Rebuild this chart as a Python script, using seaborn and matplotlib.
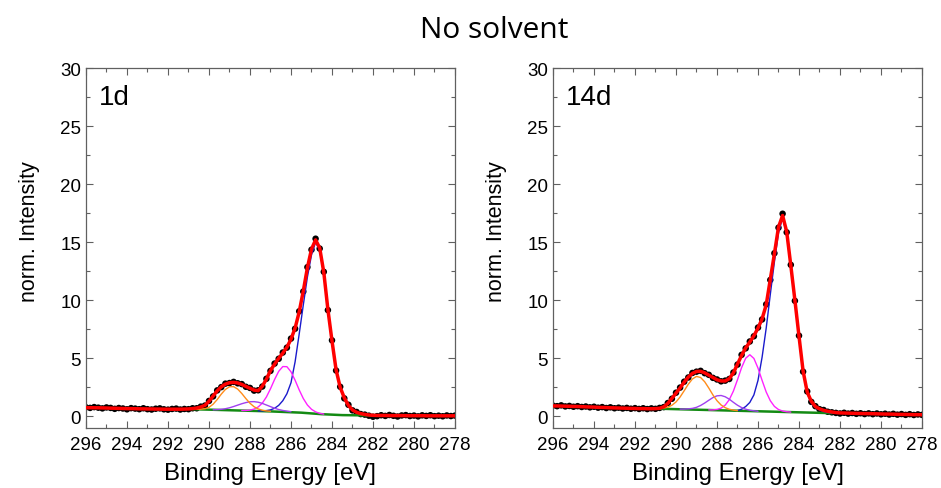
import numpy as np
import matplotlib
matplotlib.use("Agg")
import matplotlib.pyplot as plt
from matplotlib.ticker import MultipleLocator
import seaborn as sns

# ---------------- data ----------------
E_START, E_STEP = 296.0, 0.2          # measurement grid 296 -> 278 eV

panel_labels = ["1d", "14d"]
xticks = [296, 294, 292, 290, 288, 286, 284, 282, 280, 278]
yticks = [0, 5, 10, 15, 20, 25, 30]

data_1d = [0.78, 0.73, 0.80, 0.75, 0.69, 0.77, 0.73, 0.65, 0.72, 0.68,
           0.61, 0.71, 0.67, 0.62, 0.70, 0.62, 0.59, 0.66, 0.69, 0.61,
           0.58, 0.64, 0.67, 0.59, 0.64, 0.62, 0.70, 0.70, 0.84, 0.93,
           1.33, 1.72, 2.24, 2.52, 2.82, 2.87, 2.97, 2.85, 2.78, 2.55,
           2.45, 2.22, 2.25, 2.57, 3.24, 3.92, 4.55, 4.96, 5.50, 5.92,
           6.70, 7.55, 9.05, 10.75, 12.85, 14.35, 15.30, 14.45, 12.45, 9.15,
           6.55, 3.95, 2.55, 1.55, 1.00, 0.52, 0.38, 0.20, 0.15, 0.06,
           -0.03, 0.02, 0.10, 0.04, 0.12, 0.05, -0.01, 0.08, 0.11, 0.03,
           0.07, 0.00, 0.09, 0.04, 0.10, 0.02, 0.06, 0.01, 0.08, 0.03,
           0.07]
fit_1d = [0.75, 0.75, 0.74, 0.74, 0.73, 0.72, 0.71, 0.70, 0.69, 0.68,
          0.67, 0.67, 0.66, 0.65, 0.65, 0.64, 0.64, 0.63, 0.63, 0.62,
          0.62, 0.62, 0.62, 0.62, 0.63, 0.64, 0.67, 0.72, 0.81, 0.95,
          1.30, 1.75, 2.20, 2.55, 2.78, 2.90, 2.93, 2.88, 2.75, 2.58,
          2.42, 2.26, 2.22, 2.60, 3.20, 3.95, 4.50, 5.00, 5.45, 5.95,
          6.65, 7.60, 9.00, 10.80, 12.80, 14.40, 15.20, 14.50, 12.40, 9.20,
          6.50, 4.00, 2.50, 1.60, 0.95, 0.55, 0.35, 0.24, 0.17, 0.12,
          0.09, 0.08, 0.08, 0.08, 0.07, 0.07, 0.07, 0.07, 0.06, 0.06,
          0.06, 0.06, 0.06, 0.05, 0.05, 0.05, 0.05, 0.05, 0.05, 0.05,
          0.05]
bg_1d_e = [290.8, 289.0, 287.0, 285.5, 284.5, 283.5, 282.0]
bg_1d = [0.62, 0.53, 0.43, 0.32, 0.19, 0.11, 0.08]
cc_1d_start = 287.6
cc_1d = [0.47, 0.48, 0.50, 0.56, 0.70, 0.95, 1.35, 1.95, 2.90, 4.70,
         7.10, 9.60, 12.00, 13.90, 15.00, 14.30, 12.30, 9.15, 6.45, 3.95,
         2.45, 1.55, 0.90, 0.52, 0.33, 0.23, 0.17, 0.12]
co_1d_start = 288.4
co_1d = [0.51, 0.51, 0.54, 0.63, 0.81, 1.14, 1.67, 2.38, 3.18, 3.88,
         4.29, 4.28, 3.84, 3.11, 2.28, 1.54, 0.98, 0.61, 0.39, 0.26, 0.20]
c2_1d_start = 289.8
c2_1d = [0.57, 0.58, 0.61, 0.66, 0.74, 0.85, 0.97, 1.09, 1.19, 1.26,
         1.27, 1.22, 1.12, 0.98, 0.84, 0.70, 0.59, 0.51, 0.45, 0.40]
coo_1d_start = 290.6
coo_1d = [0.61, 0.62, 0.66, 0.78, 1.05, 1.45, 1.92, 2.32, 2.55, 2.56,
          2.35, 1.97, 1.53, 1.13, 0.83, 0.64, 0.53, 0.47, 0.44]

data_14d = [0.93, 0.88, 0.95, 0.86, 0.90, 0.83, 0.88, 0.81, 0.85, 0.78,
            0.83, 0.75, 0.80, 0.72, 0.78, 0.70, 0.75, 0.68, 0.73, 0.66,
            0.71, 0.64, 0.70, 0.63, 0.69, 0.65, 0.73, 0.80, 1.15, 1.52,
            2.04, 2.48, 2.99, 3.35, 3.74, 3.85, 3.92, 3.72, 3.58, 3.32,
            3.18, 3.02, 3.08, 3.22, 3.78, 4.46, 5.30, 5.86, 6.45, 6.90,
            7.65, 8.35, 9.65, 11.75, 14.05, 16.25, 17.45, 15.85, 13.05, 9.95,
            6.95, 3.85, 2.15, 1.25, 0.88, 0.62, 0.55, 0.40, 0.35, 0.30,
            0.25, 0.31, 0.24, 0.29, 0.22, 0.27, 0.20, 0.26, 0.19, 0.25,
            0.18, 0.23, 0.16, 0.22, 0.15, 0.20, 0.13, 0.19, 0.12, 0.17,
            0.13]
fit_14d = [0.90, 0.90, 0.89, 0.88, 0.87, 0.86, 0.85, 0.84, 0.82, 0.81,
           0.80, 0.78, 0.77, 0.76, 0.74, 0.73, 0.72, 0.71, 0.70, 0.69,
           0.68, 0.67, 0.67, 0.66, 0.66, 0.67, 0.70, 0.82, 1.12, 1.55,
           2.00, 2.45, 2.95, 3.38, 3.70, 3.87, 3.88, 3.75, 3.55, 3.35,
           3.15, 3.05, 3.05, 3.25, 3.75, 4.50, 5.25, 5.90, 6.40, 6.95,
           7.60, 8.40, 9.60, 11.80, 14.00, 16.30, 17.30, 15.90, 13.00, 10.00,
           6.90, 3.90, 2.10, 1.30, 0.85, 0.65, 0.52, 0.44, 0.38, 0.33,
           0.30, 0.29, 0.28, 0.27, 0.26, 0.25, 0.24, 0.24, 0.23, 0.22,
           0.21, 0.20, 0.20, 0.19, 0.18, 0.17, 0.17, 0.16, 0.15, 0.15,
           0.14]
bg_14d_e = [290.8, 288.0, 286.0, 284.0, 282.4]
bg_14d = [0.66, 0.53, 0.44, 0.35, 0.28]
cc_14d_start = 287.0
cc_14d = [0.50, 0.62, 0.85, 1.20, 1.85, 3.10, 5.10, 7.60, 10.50, 13.30,
          15.80, 17.10, 15.70, 12.90, 9.90, 6.80, 3.80, 2.00, 1.15, 0.75,
          0.55, 0.42, 0.35, 0.30]
co_14d_start = 288.4
co_14d = [0.56, 0.56, 0.60, 0.71, 0.97, 1.44, 2.18, 3.16, 4.20, 5.01,
          5.31, 4.99, 4.16, 3.10, 2.10, 1.35, 0.86, 0.59, 0.46, 0.40, 0.37]
c2_14d_start = 289.8
c2_14d = [0.63, 0.63, 0.65, 0.69, 0.78, 0.94, 1.15, 1.39, 1.62, 1.77,
          1.80, 1.69, 1.48, 1.21, 0.96, 0.76, 0.62, 0.53, 0.48, 0.44]
coo_14d_start = 290.8
coo_14d = [0.68, 0.72, 0.79, 0.96, 1.24, 1.67, 2.21, 2.77, 3.22, 3.44,
           3.35, 2.98, 2.44, 1.85, 1.35, 0.98, 0.75, 0.61, 0.54, 0.49]

# ---------------- styling ----------------
sns.set_style("ticks")
plt.rcParams["font.family"] = ["Liberation Sans", "DejaVu Sans"]
plt.rcParams["text.color"] = "black"
plt.rcParams["axes.labelcolor"] = "black"
plt.rcParams["xtick.color"] = "black"
plt.rcParams["ytick.color"] = "black"

C_FIT = "#ff0000"
C_CC = "#1a1acc"
C_CO = "#ff22ff"
C_C2 = "#a040f0"
C_COO = "#ff8c1a"
C_BG = "#138a13"
SPINE = "#606060"


def grid(start, n):
    return np.round(start - E_STEP * np.arange(n), 1)


fig = plt.figure(figsize=(9.41, 4.89), dpi=100)
W, H = 941, 489
axes_px = [(86, 69, 369, 360), (553, 69, 369, 360)]

panels = [
    dict(data=data_1d, fit=fit_1d, bg_e=bg_1d_e, bg=bg_1d,
         comps=[(cc_1d_start, cc_1d, C_CC), (co_1d_start, co_1d, C_CO),
                (c2_1d_start, c2_1d, C_C2), (coo_1d_start, coo_1d, C_COO)]),
    dict(data=data_14d, fit=fit_14d, bg_e=bg_14d_e, bg=bg_14d,
         comps=[(cc_14d_start, cc_14d, C_CC), (co_14d_start, co_14d, C_CO),
                (c2_14d_start, c2_14d, C_C2), (coo_14d_start, coo_14d, C_COO)]),
]

for i, (p, (x0, y0, w, h)) in enumerate(zip(panels, axes_px)):
    ax = fig.add_axes([x0 / W, 1 - (y0 + h) / H, w / W, h / H])
    e = grid(E_START, len(p["data"]))
    sns.scatterplot(x=e, y=p["data"], ax=ax, color="black", s=22,
                    edgecolor="none", zorder=2)
    sns.lineplot(x=p["bg_e"], y=p["bg"], ax=ax, color=C_BG, lw=1.8,
                 estimator=None, sort=False, zorder=3)
    for start, vals, col in p["comps"]:
        sns.lineplot(x=grid(start, len(vals)), y=vals, ax=ax, color=col,
                     lw=1.0, estimator=None, sort=False, zorder=4)
    sns.lineplot(x=e, y=p["fit"], ax=ax, color=C_FIT, lw=2.5,
                 estimator=None, sort=False, zorder=5)

    ax.set_xlim(296, 278)
    ax.set_ylim(-1, 30)
    ax.set_xticks(xticks)
    ax.set_xticklabels([str(t) for t in xticks])
    ax.set_yticks(yticks)
    ax.set_yticklabels([str(t) for t in yticks])
    ax.xaxis.set_minor_locator(MultipleLocator(1))
    ax.yaxis.set_minor_locator(MultipleLocator(2.5))
    ax.tick_params(which="both", direction="in", top=True, right=True,
                   color=SPINE, labelsize=13.5, labelcolor="black")
    ax.tick_params(which="major", length=5, width=0.8)
    ax.tick_params(which="minor", length=3, width=0.8)
    ax.tick_params(axis="x", pad=6)
    for s in ax.spines.values():
        s.set_color(SPINE)
        s.set_linewidth(0.9)
    ax.set_xlabel("Binding Energy [eV]", fontsize=17.3, labelpad=6)
    ax.set_ylabel("norm. Intensity", fontsize=15.5)
    ax.yaxis.set_label_coords(-46 / w, (429 - 232) / h)
    ax.text(0.035, 0.955, panel_labels[i], transform=ax.transAxes,
            ha="left", va="top", fontsize=20)

fig.text(494 / W, 1 - 30 / H, "No solvent", ha="center", va="center",
         fontsize=21.5, family=["Open Sans", "DejaVu Sans"])

fig.savefig("out.png", dpi=100)
